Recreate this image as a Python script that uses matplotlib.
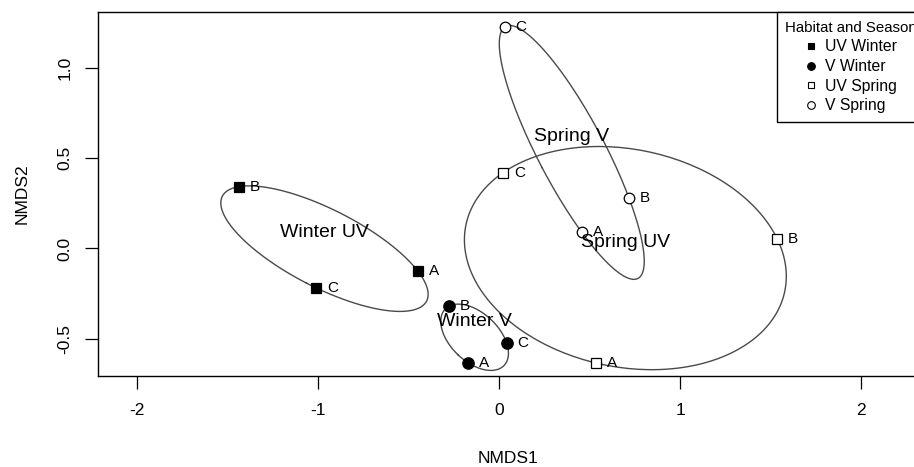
import numpy as np
import matplotlib
matplotlib.use("Agg")
import matplotlib.pyplot as plt
from matplotlib.lines import Line2D

plt.rcParams["font.family"] = ["Liberation Sans", "DejaVu Sans"]

# ─────────────────────────────────────────────
#  DATA  (NMDS scores)
# ─────────────────────────────────────────────
sites = ["A", "B", "C"]
groups = ["UV Winter", "V Winter", "UV Spring", "V Spring"]
ellipse_labels = ["Winter UV", "Winter V", "Spring UV", "Spring V"]

uv_winter_x = [-0.447, -1.436, -1.009]
uv_winter_y = [-0.127, 0.343, -0.219]
v_winter_x = [-0.170, -0.276, 0.042]
v_winter_y = [-0.634, -0.320, -0.523]
uv_spring_x = [0.536, 1.536, 0.022]
uv_spring_y = [-0.635, 0.055, 0.420]
v_spring_x = [0.457, 0.718, 0.031]
v_spring_y = [0.090, 0.280, 1.228]

xs = [uv_winter_x, v_winter_x, uv_spring_x, v_spring_x]
ys = [uv_winter_y, v_winter_y, uv_spring_y, v_spring_y]

x_ticks = [-2, -1, 0, 1, 2]
y_ticks = [-0.5, 0.0, 0.5, 1.0]

# marker style per group: (marker, filled)
styles = [("s", True), ("o", True), ("s", False), ("o", False)]


def hull_ellipse(x, y, n=200):
    """ellipse through centroid with cov, scaled to enclose all points"""
    pts = np.column_stack([x, y])
    c = pts.mean(axis=0)
    cov = np.cov(pts.T)
    inv = np.linalg.inv(cov)
    d = pts - c
    scale = np.sqrt(np.max(np.einsum("ij,jk,ik->i", d, inv, d)))
    vals, vecs = np.linalg.eigh(cov)
    t = np.linspace(0, 2 * np.pi, n)
    circ = np.vstack([np.cos(t), np.sin(t)])
    e = (vecs @ np.diag(np.sqrt(vals)) @ circ) * scale
    return c, c[0] + e[0], c[1] + e[1]


fig = plt.figure(figsize=(9.14, 4.67), dpi=100)
ax = fig.add_axes([98 / 914, 1 - 376 / 467, (919 - 98) / 914, (376 - 12) / 467])

for gx, gy, (mk, filled), lab in zip(xs, ys, styles, ellipse_labels):
    c, ex, ey = hull_ellipse(gx, gy)
    ax.plot(ex, ey, color="#4a4a4a", lw=1.0, zorder=1)
    ms = 7.6 if mk == "s" else 8.2
    ax.plot(gx, gy, ls="none", marker=mk, ms=ms if filled else ms - 0.6,
            mfc="black" if filled else "white", mec="black",
            mew=0.9, zorder=3)
    for px, py, s in zip(gx, gy, sites):
        ax.annotate(s, (px, py), xytext=(8, 0), textcoords="offset points",
                    ha="left", va="center", fontsize=11, zorder=4)
    ax.annotate(lab, (c[0], c[1]), xytext=(0, 11.5), textcoords="offset points",
                ha="center", va="center", fontsize=14, zorder=4)

ax.set_xlim(-2.215, 2.32)
ax.set_ylim(-0.707, 1.311)
ax.set_xticks(x_ticks)
ax.set_xticklabels([str(v) for v in x_ticks])
ax.set_yticks(y_ticks)
ax.set_yticklabels([f"{v:.1f}" for v in y_ticks], rotation=90, va="center")
ax.tick_params(direction="out", length=9.5, width=0.9, labelsize=12.5, pad=10)
ax.tick_params(axis="y", pad=9)
for sp in ax.spines.values():
    sp.set_linewidth(1.0)
ax.set_xlabel("NMDS1", fontsize=12.5, labelpad=24)
ax.set_ylabel("NMDS2", fontsize=12.5, labelpad=20)

handles = [
    Line2D([], [], ls="none", marker=mk, ms=5 if mk == "s" else 5.5,
           mfc="black" if filled else "white", mec="black", mew=0.8)
    for mk, filled in styles
]
leg = ax.legend(handles, groups, title="Habitat and Season", loc="upper right",
                bbox_to_anchor=(1.008, 1), borderaxespad=0, fancybox=False,
                edgecolor="black", fontsize=11.3, title_fontsize=10.8,
                handlelength=0.8, handletextpad=0.5, labelspacing=0.3,
                borderpad=0.55, alignment="center", framealpha=1)
leg.get_frame().set_linewidth(1.0)

fig.savefig("out.png", dpi=100)
